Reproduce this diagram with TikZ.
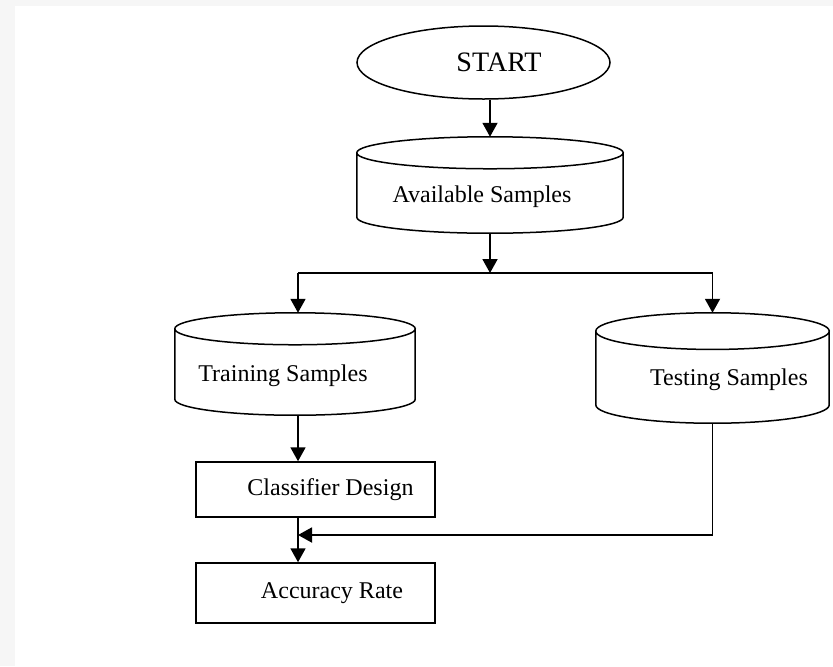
\documentclass[tikz,border=0pt]{standalone}
\usepackage{fontspec}
\setmainfont{Liberation Serif}
\usetikzlibrary{arrows.meta,shapes.geometric,calc}

\tikzset{
    flow/.style={line width=0.55mm, -{Triangle[width=4.5mm,length=4.2mm]}},
    nudge/.style={execute at begin node={\hspace*{#1}}},
    term/.style={ellipse, draw, line width=0.45mm, inner sep=0pt, font=\fontsize{24}{28}\selectfont},
    store/.style={rectangle, inner sep=0pt, text height=10.5mm, text depth=0pt, font=\fontsize{20.5}{24}\selectfont},
    process/.style={rectangle, draw, line width=0.45mm, inner sep=0pt, minimum width=71.7mm, font=\fontsize{20.5}{24}\selectfont}
}

% outline of a drum round a store node: #1 node, #2 radius of the end ellipse
\newcommand{\drum}[2]{%
    \draw[line width=0.45mm] let \p1=(#1.north west), \p2=(#1.south east), \n1={(\x2-\x1)/2} in
        (\x1,\y1-#2) arc[start angle=180, end angle=360, x radius=\n1, y radius=#2]
        arc[start angle=0, end angle=180, x radius=\n1, y radius=#2]
        -- (\x1,\y2+#2) arc[start angle=180, end angle=360, x radius=\n1, y radius=#2]
        -- (\x2,\y1-#2);
}

\begin{document}
\begin{tikzpicture}[x=0.3mm,y=-0.3mm]
    % page
    \fill[gray!7] (0,0) rectangle (833,666);
    \fill[white] (15,6) rectangle (833,666);
    \useasboundingbox (0,0) rectangle (833,666);
    % start and the sample stores
    \node[term, nudge=9.3mm, minimum width=75.9mm, minimum height=21.9mm] (start) at (483.5,62.5) {START};
    \node[store, nudge=-4.8mm, minimum width=79.8mm, minimum height=28.8mm] (avail) at (490,185) {Available Samples};
    \node[store, nudge=-7.2mm, minimum width=72mm, minimum height=30.6mm] (train) at (295,364) {Training Samples};
    \node[store, nudge=9.9mm, minimum width=69.9mm, minimum height=33mm] (test) at (712.5,368) {Testing Samples};
    \drum{avail}{4.8mm}
    \drum{train}{4.8mm}
    \drum{test}{5.5mm}
    % classifier and result
    \node[process, nudge=9mm, minimum height=16.5mm] (design) at (315.5,489.5) {Classifier Design};
    \node[process, nudge=9.9mm, minimum height=18mm] (rate) at (315.5,593) {Accuracy Rate};
    % branch points
    \coordinate (split) at (490,273);
    \coordinate (join) at (298,535);
    % arrows
    \draw[flow] (start.south -| avail.north) -- (avail.north);
    \draw[flow] (avail.south) -- (split);
    \draw[line width=0.55mm] (split -| join) -- (split -| test.north);
    \draw[flow] (split -| join) -- (train.north -| join);
    \draw[flow] (split -| test.north) -- (test.north);
    \draw[flow] (train.south -| join) -- (design.north -| join);
    \draw[flow] (design.south -| join) -- (rate.north -| join);
    \draw[flow] (test.south) |- (join);
\end{tikzpicture}
\end{document}
